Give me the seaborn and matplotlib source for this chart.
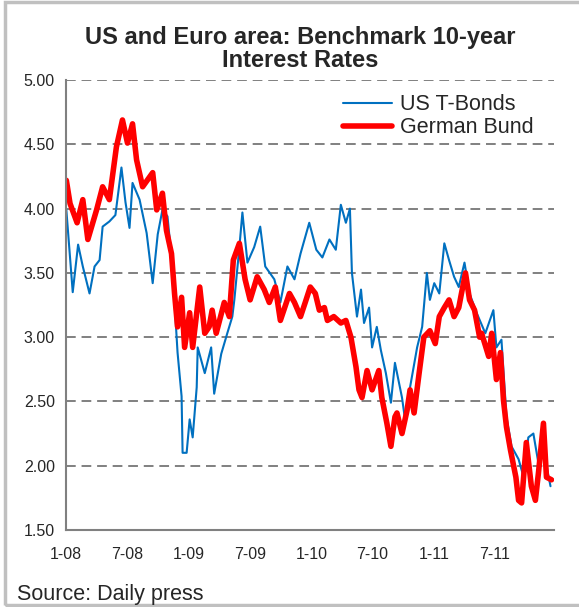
import pandas as pd
import matplotlib
matplotlib.use("Agg")
import matplotlib.pyplot as plt
import matplotlib.dates as mdates
import seaborn as sns

# ---------------------------------------------------
# Daten
# ---------------------------------------------------
us_dates = [
    "2008-01-02", "2008-01-21", "2008-02-06", "2008-02-20", "2008-03-11", "2008-03-26",
    "2008-04-10", "2008-04-19", "2008-05-09", "2008-05-27", "2008-06-14", "2008-06-26",
    "2008-07-08", "2008-07-17", "2008-08-07", "2008-08-28", "2008-09-15", "2008-09-30",
    "2008-10-14", "2008-10-29", "2008-11-10", "2008-11-19", "2008-11-28", "2008-12-10",
    "2008-12-13", "2008-12-25", "2009-01-03", "2009-01-12", "2009-01-24", "2009-01-27",
    "2009-02-17", "2009-03-08", "2009-03-17", "2009-04-07", "2009-04-25", "2009-05-10",
    "2009-05-16", "2009-05-31", "2009-06-09", "2009-06-24", "2009-07-14", "2009-08-01",
    "2009-08-16", "2009-09-12", "2009-09-30", "2009-10-21", "2009-11-11", "2009-11-29",
    "2009-12-25", "2010-01-15", "2010-02-02", "2010-02-23", "2010-03-14", "2010-03-29",
    "2010-04-13", "2010-04-25", "2010-05-01", "2010-05-16", "2010-05-28", "2010-06-06",
    "2010-06-21", "2010-06-30", "2010-07-14", "2010-07-26", "2010-08-10", "2010-08-25",
    "2010-09-06", "2010-09-27", "2010-10-06", "2010-10-21", "2010-11-11", "2010-11-26",
    "2010-12-10", "2010-12-19", "2011-01-01", "2011-01-16", "2011-01-31", "2011-02-14",
    "2011-03-01", "2011-03-15", "2011-04-01", "2011-04-16", "2011-05-07", "2011-06-02",
    "2011-06-26", "2011-07-05", "2011-07-20", "2011-08-04", "2011-08-19", "2011-09-09",
    "2011-09-24", "2011-10-08", "2011-10-23", "2011-11-07", "2011-11-22", "2011-12-13",
]
us_values = [
    3.99, 3.35, 3.72, 3.55, 3.34, 3.55,
    3.60, 3.86, 3.90, 3.95, 4.32, 4.05,
    3.85, 4.20, 4.07, 3.81, 3.42, 3.80,
    3.99, 3.94, 3.62, 3.27, 2.88, 2.54,
    2.10, 2.10, 2.36, 2.22, 2.61, 2.92,
    2.72, 2.92, 2.56, 2.87, 3.03, 3.16,
    3.29, 3.70, 3.97, 3.58, 3.70, 3.86,
    3.55, 3.45, 3.27, 3.55, 3.45, 3.65,
    3.89, 3.68, 3.62, 3.76, 3.68, 4.03,
    3.89, 4.00, 3.50, 3.16, 3.37, 3.11,
    3.23, 2.92, 3.08, 2.90, 2.72, 2.49,
    2.80, 2.53, 2.36, 2.61, 2.92, 3.08,
    3.50, 3.29, 3.42, 3.34, 3.73, 3.60,
    3.47, 3.39, 3.58, 3.34, 3.19, 3.03,
    3.21, 2.92, 2.98, 2.38, 2.15, 2.05,
    1.91, 2.22, 2.25, 2.02, 2.12, 1.84,
]

bund_dates = [
    "2008-01-02", "2008-01-13", "2008-02-03", "2008-02-20", "2008-03-06", "2008-04-01",
    "2008-04-19", "2008-05-09", "2008-05-30", "2008-06-17", "2008-07-02", "2008-07-17",
    "2008-07-29", "2008-08-16", "2008-09-15", "2008-09-27", "2008-10-14", "2008-10-26",
    "2008-11-10", "2008-11-19", "2008-11-28", "2008-12-10", "2008-12-19", "2009-01-03",
    "2009-01-12", "2009-02-02", "2009-02-17", "2009-03-02", "2009-03-11", "2009-03-23",
    "2009-04-16", "2009-05-01", "2009-05-13", "2009-05-31", "2009-06-17", "2009-07-02",
    "2009-07-23", "2009-08-13", "2009-08-28", "2009-09-15", "2009-09-30", "2009-10-27",
    "2009-11-11", "2009-11-29", "2009-12-13", "2009-12-28", "2010-01-12", "2010-01-24",
    "2010-02-08", "2010-02-17", "2010-03-08", "2010-03-29", "2010-04-13", "2010-04-28",
    "2010-05-13", "2010-05-22", "2010-05-31", "2010-06-15", "2010-06-30", "2010-07-20",
    "2010-07-29", "2010-08-13", "2010-08-25", "2010-09-06", "2010-09-12", "2010-09-27",
    "2010-10-12", "2010-10-21", "2010-11-02", "2010-11-17", "2010-12-01", "2010-12-19",
    "2011-01-04", "2011-01-16", "2011-01-31", "2011-02-14", "2011-03-01", "2011-03-15",
    "2011-03-23", "2011-04-04", "2011-04-16", "2011-05-01", "2011-05-16", "2011-05-22",
    "2011-06-12", "2011-06-21", "2011-07-05", "2011-07-17", "2011-07-26", "2011-08-04",
    "2011-08-16", "2011-09-01", "2011-09-09", "2011-09-18", "2011-10-02", "2011-10-17",
    "2011-10-29", "2011-11-07", "2011-11-22", "2011-12-01", "2011-12-16",
]
bund_values = [
    4.22, 4.04, 3.89, 4.07, 3.76, 3.99,
    4.17, 4.07, 4.48, 4.69, 4.51, 4.66,
    4.38, 4.17, 4.28, 3.99, 4.12, 3.83,
    3.65, 3.34, 3.08, 3.31, 2.92, 3.19,
    2.92, 3.39, 3.03, 3.08, 3.21, 3.03,
    3.27, 3.16, 3.60, 3.73, 3.45, 3.29,
    3.47, 3.37, 3.27, 3.39, 3.13, 3.34,
    3.27, 3.16, 3.27, 3.39, 3.34, 3.21,
    3.23, 3.13, 3.16, 3.11, 3.13, 3.00,
    2.77, 2.59, 2.53, 2.74, 2.59, 2.74,
    2.53, 2.33, 2.15, 2.38, 2.41, 2.25,
    2.43, 2.59, 2.41, 2.72, 3.00, 3.05,
    2.95, 3.16, 3.23, 3.29, 3.16, 3.23,
    3.34, 3.50, 3.29, 3.21, 3.00, 3.03,
    2.85, 3.03, 2.67, 2.88, 2.51, 2.30,
    2.12, 1.91, 1.73, 1.71, 2.18, 1.84,
    1.73, 1.94, 2.33, 1.91, 1.89,
]

tick_dates = ["2008-01-01", "2008-07-01", "2009-01-01", "2009-07-01",
              "2010-01-01", "2010-07-01", "2011-01-01", "2011-07-01"]
tick_labels = ["1-08", "7-08", "1-09", "7-09", "1-10", "7-10", "1-11", "7-11"]
y_ticks = [1.5, 2.0, 2.5, 3.0, 3.5, 4.0, 4.5, 5.0]

# ---------------------------------------------------
# Tabelle fuer seaborn
# ---------------------------------------------------
df = pd.concat([
    pd.DataFrame({"date": pd.to_datetime(us_dates), "rate": us_values, "series": "US T-Bonds"}),
    pd.DataFrame({"date": pd.to_datetime(bund_dates), "rate": bund_values, "series": "German Bund"}),
])

sns.set_style("white")
plt.rcParams["font.family"] = ["Liberation Sans", "DejaVu Sans"]

fig = plt.figure(figsize=(5.79, 6.07), dpi=100)
ax = fig.add_axes([0.114, 0.127, 0.842, 0.741])

sns.lineplot(data=df, x="date", y="rate", hue="series", size="series",
             sizes={"US T-Bonds": 1.5, "German Bund": 4.0},
             palette={"US T-Bonds": "#0070C0", "German Bund": "#FF0000"},
             hue_order=["US T-Bonds", "German Bund"], estimator=None, sort=True, ax=ax)

# Achsen
ax.set_ylim(1.5, 5.0)
ax.set_xlim(pd.Timestamp("2008-01-01"), pd.Timestamp("2011-12-22"))
ax.set_yticks(y_ticks)
ax.set_yticklabels([f"{v:.2f}" for v in y_ticks], fontsize=11.5)
ax.set_xticks(pd.to_datetime(tick_dates))
ax.set_xticklabels(tick_labels, fontsize=11.5)
ax.xaxis.set_minor_locator(mdates.MonthLocator())
ax.set_xlabel("")
ax.set_ylabel("")

for y in y_ticks[1:]:
    ax.axhline(y, color="#808080", lw=1.4, ls=(0, (5, 3)), zorder=0)

for side in ["top", "right"]:
    ax.spines[side].set_visible(False)
for side in ["left", "bottom"]:
    ax.spines[side].set_color("#808080")
    ax.spines[side].set_linewidth(1.5)

ax.tick_params(axis="y", which="major", direction="out", length=4, color="#808080", width=1.2, pad=4)
ax.tick_params(axis="x", which="major", direction="inout", length=8, color="#808080", width=1.2, pad=8)
ax.tick_params(axis="x", which="minor", direction="out", length=3, color="#808080", width=1.0)

leg = ax.legend(loc="upper right", bbox_to_anchor=(0.998, 1.012), frameon=False,
                fontsize=15.5, handlelength=2.3, handletextpad=0.35, labelspacing=0.1)

# Titel und Quelle
fig.text(0.518, 0.957, "US and Euro area: Benchmark 10-year\nInterest Rates", ha="center", va="top",
         fontsize=17, fontweight="bold", linespacing=1.0)
fig.text(0.03, 0.003, "Source: Daily press", ha="left", va="bottom", fontsize=15.5)

# Rahmen (links, oben, unten)
fig.patches.append(plt.Rectangle((0.009, 0.003), 1.2, 0.993, transform=fig.transFigure,
                                 fill=False, edgecolor="#c0c0c0", lw=2.5))

plt.savefig("out.png", dpi=100)
